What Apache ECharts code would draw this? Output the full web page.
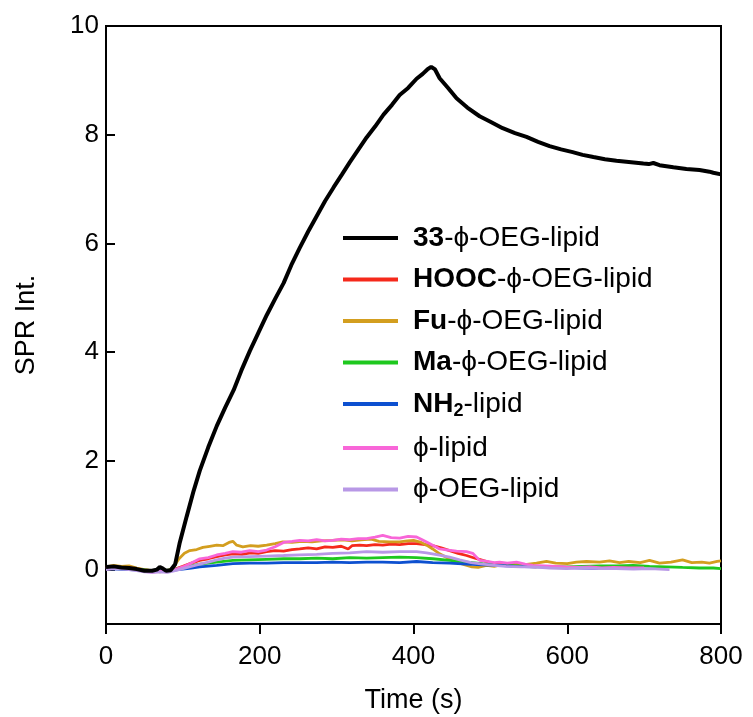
<!DOCTYPE html>
<html>
<head>
<meta charset="utf-8">
<script src="https://cdn.jsdelivr.net/npm/echarts@6/dist/echarts.min.js"></script>
<style>
  html, body { margin: 0; padding: 0; background: #fff; }
  #main { width: 753px; height: 717px; }
</style>
</head>
<body>
<div id="main"></div>
<script>
var font = 'Liberation Sans, Arial, Helvetica, sans-serif';

var yTicks = [0, 2, 4, 6, 8, 10];

var names = ['33-ϕ-OEG-lipid', 'HOOC-ϕ-OEG-lipid', 'Fu-ϕ-OEG-lipid', 'Ma-ϕ-OEG-lipid', 'NH2-lipid', 'ϕ-lipid', 'ϕ-OEG-lipid'];
var colors = ['#000000', '#f5291b', '#d39e1f', '#1ec81e', '#0d50d0', '#f866d8', '#b898e6'];

// [time (s), SPR intensity]
var d33 = [[0,0.05],[10,0.06],[20,0.04],[30,0.03],[40,0.01],[50,-0.02],[60,-0.02],[66,0.0],[70,0.05],[74,0.02],[78,-0.02],[84,-0.01],[90,0.1],[96,0.5],[105,0.98],[114,1.45],[122,1.82],[133,2.25],[144,2.64],[155,2.98],[166,3.3],[176,3.66],[187,4.02],[198,4.35],[209,4.68],[220,4.98],[231,5.27],[241,5.6],[252,5.92],[263,6.22],[274,6.5],[285,6.78],[296,7.03],[307,7.27],[317,7.49],[328,7.72],[339,7.95],[350,8.15],[361,8.37],[372,8.55],[382,8.73],[393,8.86],[404,9.03],[412,9.12],[418,9.2],[423,9.25],[428,9.2],[434,9.04],[445,8.86],[456,8.67],[470,8.5],[486,8.34],[500,8.24],[516,8.12],[532,8.03],[547,7.96],[562,7.87],[577,7.79],[592,7.73],[607,7.68],[620,7.63],[634,7.59],[649,7.55],[664,7.52],[680,7.5],[699,7.47],[706,7.46],[712,7.48],[720,7.44],[738,7.4],[755,7.37],[772,7.35],[785,7.32],[790,7.3],[800,7.27]];
var dHOOC = [[0,0.04],[15,0.05],[30,0.03],[45,0.0],[60,-0.02],[75,-0.03],[88,0.0],[100,0.06],[111,0.12],[122,0.17],[133,0.2],[144,0.24],[155,0.27],[165,0.29],[177,0.28],[188,0.31],[198,0.3],[209,0.33],[220,0.35],[231,0.34],[242,0.37],[252,0.38],[263,0.4],[274,0.38],[285,0.42],[295,0.41],[306,0.43],[315,0.38],[320,0.44],[330,0.45],[339,0.44],[350,0.46],[360,0.45],[371,0.47],[382,0.46],[393,0.48],[404,0.48],[415,0.46],[425,0.44],[436,0.4],[447,0.35],[458,0.3],[469,0.26],[480,0.21],[490,0.17],[500,0.13],[512,0.1],[525,0.08],[540,0.06],[560,0.05]];
var dFu = [[0,0.05],[10,0.08],[20,0.06],[30,0.07],[40,0.03],[50,0.0],[60,-0.02],[70,-0.04],[80,-0.02],[87,0.03],[95,0.2],[102,0.3],[109,0.35],[118,0.37],[126,0.41],[135,0.43],[144,0.45],[152,0.44],[160,0.5],[165,0.52],[170,0.45],[178,0.42],[188,0.44],[198,0.43],[209,0.45],[220,0.48],[230,0.51],[242,0.5],[255,0.52],[268,0.51],[280,0.53],[295,0.54],[308,0.55],[320,0.53],[332,0.55],[345,0.56],[355,0.52],[369,0.51],[382,0.51],[392,0.53],[400,0.54],[410,0.5],[417,0.45],[425,0.38],[434,0.29],[444,0.22],[455,0.14],[466,0.09],[476,0.05],[484,0.04],[495,0.08],[505,0.06],[515,0.09],[530,0.1],[545,0.09],[560,0.12],[573,0.15],[585,0.12],[600,0.11],[612,0.14],[625,0.15],[642,0.14],[655,0.16],[668,0.13],[680,0.15],[695,0.13],[707,0.17],[720,0.12],[735,0.14],[750,0.18],[762,0.13],[775,0.14],[785,0.12],[795,0.15],[800,0.16]];
var dMa = [[0,0.03],[15,0.02],[30,0.01],[45,0.0],[60,-0.02],[75,-0.02],[88,0.0],[100,0.04],[111,0.07],[122,0.1],[144,0.14],[165,0.17],[187,0.18],[209,0.19],[231,0.2],[252,0.2],[274,0.21],[295,0.2],[317,0.22],[339,0.21],[360,0.22],[382,0.23],[404,0.22],[425,0.2],[447,0.17],[469,0.14],[490,0.11],[512,0.08],[535,0.07],[555,0.06],[577,0.05],[599,0.05],[620,0.06],[642,0.07],[664,0.07],[686,0.08],[707,0.06],[729,0.05],[750,0.04],[772,0.03],[790,0.03],[800,0.02]];
var dNH2 = [[0,0.02],[15,0.01],[30,0.0],[45,-0.01],[60,-0.02],[75,-0.02],[88,-0.01],[100,0.01],[111,0.03],[122,0.05],[144,0.08],[165,0.11],[187,0.12],[209,0.12],[231,0.13],[252,0.13],[274,0.13],[295,0.14],[317,0.13],[339,0.14],[360,0.14],[382,0.13],[404,0.15],[425,0.13],[447,0.12],[469,0.1],[490,0.09],[512,0.08],[533,0.06],[555,0.05],[577,0.05],[599,0.04],[620,0.03],[642,0.02],[660,0.02]];
var dPhi = [[0,0.02],[10,0.05],[20,0.03],[30,0.04],[40,0.0],[50,-0.03],[60,-0.05],[70,-0.03],[80,-0.04],[90,0.0],[100,0.05],[111,0.12],[122,0.2],[133,0.22],[144,0.27],[155,0.3],[165,0.33],[176,0.32],[187,0.35],[198,0.33],[209,0.36],[220,0.42],[231,0.5],[242,0.52],[252,0.54],[263,0.53],[274,0.55],[285,0.53],[295,0.54],[306,0.56],[317,0.55],[328,0.57],[339,0.57],[350,0.6],[360,0.63],[371,0.59],[382,0.58],[393,0.61],[404,0.6],[410,0.56],[417,0.51],[425,0.45],[434,0.38],[445,0.36],[456,0.34],[469,0.33],[477,0.3],[486,0.17],[496,0.15],[505,0.13],[512,0.14],[522,0.12],[534,0.14],[545,0.1],[555,0.08],[570,0.07],[585,0.06],[599,0.05],[615,0.04],[630,0.05],[645,0.03],[660,0.04],[680,0.03],[700,0.03]];
var dPhiOEG = [[0,0.0],[10,0.02],[20,0.01],[30,0.0],[40,-0.02],[50,-0.04],[60,-0.05],[70,-0.04],[80,-0.05],[90,-0.02],[100,0.02],[111,0.06],[122,0.1],[133,0.14],[144,0.18],[155,0.21],[165,0.23],[187,0.24],[209,0.25],[231,0.26],[252,0.27],[274,0.28],[295,0.3],[317,0.31],[339,0.33],[360,0.32],[382,0.33],[404,0.33],[417,0.31],[432,0.27],[447,0.23],[460,0.18],[475,0.13],[490,0.1],[505,0.08],[520,0.06],[540,0.05],[555,0.05],[577,0.03],[599,0.02],[620,0.03],[642,0.02],[664,0.02],[686,0.01],[708,0.02],[733,0.0]];

var seriesData = [d33, dHOOC, dFu, dMa, dNH2, dPhi, dPhiOEG];

var legendText = {
  '33-ϕ-OEG-lipid': '{b|33}-ϕ-OEG-lipid',
  'HOOC-ϕ-OEG-lipid': '{b|HOOC}-ϕ-OEG-lipid',
  'Fu-ϕ-OEG-lipid': '{b|Fu}-ϕ-OEG-lipid',
  'Ma-ϕ-OEG-lipid': '{b|Ma}-ϕ-OEG-lipid',
  'NH2-lipid': '{b|NH}{sub|2}-lipid',
  'ϕ-lipid': 'ϕ-lipid',
  'ϕ-OEG-lipid': 'ϕ-OEG-lipid'
};

var myChart = echarts.init(document.getElementById('main'));

var option = {
  animation: false,
  backgroundColor: '#fff',
  textStyle: { fontFamily: font },
  grid: {
    left: 106, right: 32, top: 26, bottom: 93,
    show: true, borderColor: '#000', borderWidth: 2,
    outerBoundsMode: 'none'
  },
  legend: {
    orient: 'vertical',
    left: 338,
    top: 219,
    itemWidth: 55,
    itemHeight: 4,
    itemGap: 13.5,
    icon: 'rect',
    data: names,
    formatter: function (name) { return legendText[name]; },
    textStyle: {
      fontFamily: font,
      fontSize: 28,
      color: '#000',
      padding: [0, 0, 0, 10],
      rich: {
        b: { fontFamily: font, fontSize: 28, fontWeight: 'bold', color: '#000' },
        sub: { fontFamily: font, fontSize: 18, fontWeight: 'bold', color: '#000', padding: [15, 0, 0, 0] }
      }
    }
  },
  xAxis: {
    type: 'value',
    min: 0, max: 800, interval: 200,
    name: 'Time (s)',
    nameLocation: 'middle',
    nameGap: 63,
    nameTextStyle: { fontSize: 27, color: '#000', fontFamily: font },
    axisLine: { onZero: false, lineStyle: { color: '#000', width: 2 } },
    axisTick: { inside: false, length: 10, lineStyle: { color: '#000', width: 2 } },
    axisLabel: { fontSize: 26, color: '#000', margin: 20, fontFamily: font },
    splitLine: { show: false }
  },
  yAxis: {
    type: 'value',
    min: -1, max: 10,
    name: 'SPR Int.',
    nameLocation: 'middle',
    nameGap: 66,
    nameTextStyle: { fontSize: 27, color: '#000', fontFamily: font },
    axisLine: { show: true, onZero: false, lineStyle: { color: '#000', width: 2 } },
    axisTick: { show: true, inside: true, length: 9, customValues: yTicks, lineStyle: { color: '#000', width: 2 } },
    axisLabel: { fontSize: 26, color: '#000', margin: 7, customValues: yTicks, fontFamily: font },
    splitLine: { show: false }
  },
  series: names.map(function (n, i) {
    return {
      name: n,
      type: 'line',
      data: seriesData[i],
      showSymbol: false,
      symbol: 'none',
      color: colors[i],
      lineStyle: { color: colors[i], width: i === 0 ? 4 : 2.8 },
      z: i === 0 ? 3 : 2
    };
  })
};

option && myChart.setOption(option);
</script>
</body>
</html>
